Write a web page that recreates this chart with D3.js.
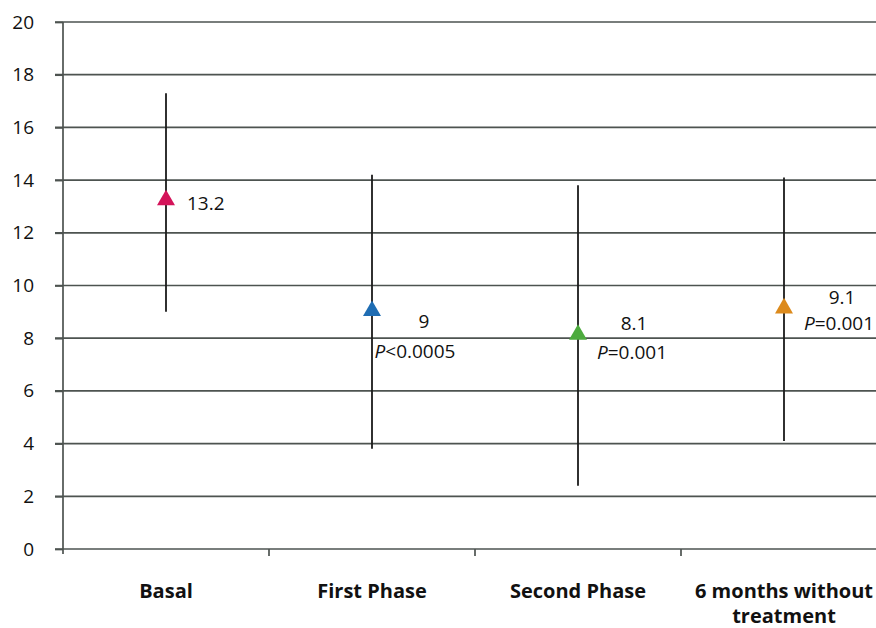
<!DOCTYPE html>
<html>
<head>
<meta charset="utf-8">
<script src="https://cdn.jsdelivr.net/npm/d3@7"></script>
<style>
  body { margin: 0; background: #fff; }
  text { font-family: "Open Sans", "DejaVu Sans", sans-serif; }
</style>
</head>
<body>
<div id="chart"></div>
<script>
const categories = [["Basal"], ["First Phase"], ["Second Phase"], ["6 months without", "treatment"]];
const means = [13.2, 9, 8.1, 9.1];
const lows = [9.0, 3.8, 2.4, 4.1];
const highs = [17.3, 14.2, 13.8, 14.1];
const pLabels = ["", "P<0.0005", "P=0.001", "P=0.001"];
const colors = ["#d4145a", "#1f6db3", "#4dab3e", "#dc8a1c"];
const yTicks = [0, 2, 4, 6, 8, 10, 12, 14, 16, 18, 20];

const W = 876, H = 628;
const margin = { top: 22, left: 63, bottom: 79 };
const plotW = 824, plotH = H - margin.top - margin.bottom;
const gridColor = "#4d5350";

const svg = d3.select("#chart").append("svg")
    .attr("width", W).attr("height", H);

const x = d3.scaleBand().domain(d3.range(categories.length)).range([margin.left, margin.left + plotW]);
const y = d3.scaleLinear().domain([0, 20]).range([margin.top + plotH, margin.top]);

// gridlines
svg.append("g").selectAll("line").data(yTicks.filter(d => d > 0)).enter().append("line")
    .attr("x1", margin.left - 8).attr("x2", W)
    .attr("y1", d => y(d)).attr("y2", d => y(d))
    .attr("stroke", gridColor).attr("stroke-width", 1.7);

// y axis
svg.append("g")
    .attr("transform", `translate(${margin.left},0)`)
    .call(d3.axisLeft(y).tickValues(yTicks).tickSize(8).tickPadding(21))
    .call(g => g.select(".domain").attr("d", `M0,${margin.top}V${y(0) + 5}`).attr("stroke", gridColor).attr("stroke-width", 1.7))
    .call(g => g.selectAll(".tick line").attr("stroke", gridColor).attr("stroke-width", 1.7))
    .call(g => g.selectAll(".tick text").attr("font-size", 19).attr("fill", "#111").attr("text-anchor", "end"));

// x axis
svg.append("line")
    .attr("x1", margin.left - 8).attr("x2", W)
    .attr("y1", y(0)).attr("y2", y(0))
    .attr("stroke", gridColor).attr("stroke-width", 1.7);
svg.append("g").selectAll("line").data(d3.range(1, categories.length)).enter().append("line")
    .attr("x1", d => x(d)).attr("x2", d => x(d))
    .attr("y1", y(0)).attr("y2", y(0) + 7)
    .attr("stroke", gridColor).attr("stroke-width", 1.7);

// category labels
const catText = svg.append("g").selectAll("text").data(categories).enter().append("text")
    .attr("x", (d, i) => x(i) + x.bandwidth() / 2)
    .attr("y", 598)
    .attr("text-anchor", "middle")
    .attr("font-size", 20).attr("font-weight", "bold").attr("fill", "#111");
catText.selectAll("tspan").data(d => d).enter().append("tspan")
    .attr("x", function () { return this.parentNode.getAttribute("x"); })
    .attr("dy", (d, i) => i === 0 ? 0 : 25)
    .text(d => d);

// error bars
svg.append("g").selectAll("line").data(means).enter().append("line")
    .attr("x1", (d, i) => x(i) + x.bandwidth() / 2)
    .attr("x2", (d, i) => x(i) + x.bandwidth() / 2)
    .attr("y1", (d, i) => y(lows[i])).attr("y2", (d, i) => y(highs[i]))
    .attr("stroke", "#1a1a1a").attr("stroke-width", 1.8);

// triangle markers
const tri = d3.symbol().type(d3.symbolTriangle).size(140);
svg.append("g").selectAll("path").data(means).enter().append("path")
    .attr("d", tri)
    .attr("transform", (d, i) => `translate(${x(i) + x.bandwidth() / 2},${y(d) - 1})`)
    .attr("fill", (d, i) => colors[i]);

// value labels (offsets from the marker)
const labelPos = [
    { dx: 21, dy: 9, anchor: "start", pdx: 0, pdy: 0 },
    { dx: 52, dy: 16, anchor: "middle", pdx: 43, pdy: 46 },
    { dx: 56, dy: -6, anchor: "middle", pdx: 54, pdy: 23 },
    { dx: 58, dy: -5, anchor: "middle", pdx: 55, pdy: 21 }
];
means.forEach((m, i) => {
    const cx = x(i) + x.bandwidth() / 2, cy = y(m);
    const lp = labelPos[i];
    svg.append("text")
        .attr("x", cx + lp.dx).attr("y", cy + lp.dy)
        .attr("text-anchor", lp.anchor)
        .attr("font-size", 19).attr("fill", "#111")
        .text(String(m));
    if (pLabels[i]) {
        const t = svg.append("text")
            .attr("x", cx + lp.pdx).attr("y", cy + lp.pdy)
            .attr("text-anchor", "middle")
            .attr("font-size", 19).attr("fill", "#111");
        t.append("tspan").attr("font-style", "italic").text(pLabels[i][0]);
        t.append("tspan").text(pLabels[i].slice(1));
    }
});
</script>
</body>
</html>
